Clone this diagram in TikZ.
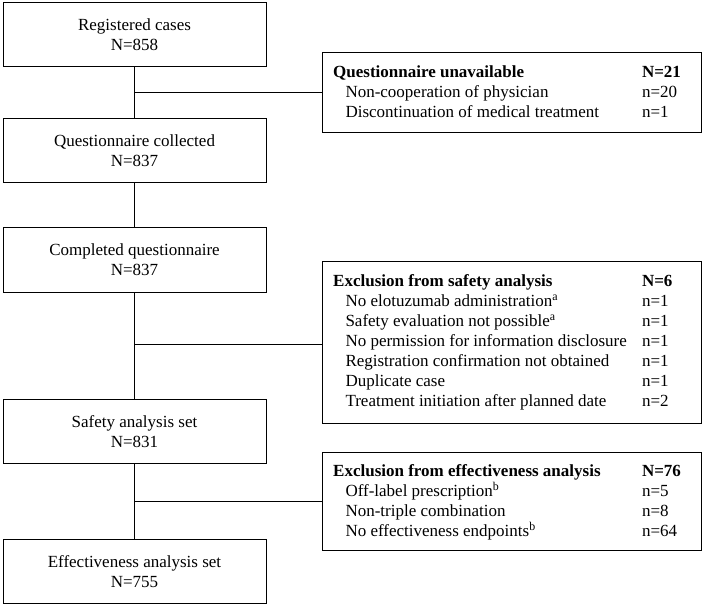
\documentclass[tikz,border=0pt]{standalone}
\usepackage{fontspec}
\setmainfont{Liberation Serif}
\begin{document}
\begin{tikzpicture}[x=1pt,y=-1pt,
  font=\fontsize{17}{20}\selectfont,
  line width=1pt,
  lbox/.style={draw, minimum width=263pt, minimum height=64pt, align=center, inner sep=0pt},
  rbox/.style={draw, minimum width=378.5pt, inner sep=0pt},
  ttl/.style={anchor=base west, inner sep=0pt, font=\fontsize{17}{20}\selectfont\bfseries},
  itm/.style={anchor=base west, inner sep=0pt},
  num/.style={anchor=base west, inner sep=0pt}]
\useasboundingbox (0,0) rectangle (709,607);

% main column
\node[lbox, minimum height=63.3pt] (b1) at (134.5,34.4) {Registered cases\\N=858};
\node[lbox, minimum height=63.7pt] (b2) at (134.5,150.2) {Questionnaire collected\\N=837};
\node[lbox, minimum height=64.3pt] (b3) at (134.5,259.9) {Completed questionnaire\\N=837};
\node[lbox, minimum height=64pt] (b4) at (134.5,431.3) {Safety analysis set\\N=831};
\node[lbox, minimum height=64.4pt] (b5) at (134.5,571.5) {Effectiveness analysis set\\N=755};

% side boxes
\node[rbox, minimum height=80.4pt] (q) at (511.75,92.5) {};
\node[rbox, minimum height=161.3pt] (s) at (511.75,342.35) {};
\node[rbox, minimum height=97.3pt] (e) at (511.75,501.35) {};

% connectors
\draw (b1) -- (b2);
\draw (b2) -- (b3);
\draw (b3) -- (b4);
\draw (b4) -- (b5);
\coordinate (jq) at (134.5,92.5);
\coordinate (js) at (134.5,344.3);
\coordinate (je) at (134.5,501.7);
\draw (jq) -- (jq -| q.west);
\draw (js) -- (js -| s.west);
\draw (je) -- (je -| e.west);

% questionnaire unavailable
\node[ttl] (qt) at (332.7,77.3) {Questionnaire unavailable};
\node[ttl] (qn) at (641.5,77.3) {N=21};
\node[itm] (q1) at (345,97.3) {Non-cooperation of physician};
\node[num] (q1n) at (641.5,97.3) {n=20};
\node[itm] (q2) at (345,117.3) {Discontinuation of medical treatment};
\node[num] (q2n) at (641.5,117.3) {n=1};

% safety exclusion
\node[ttl] (st) at (332.7,286.3) {Exclusion from safety analysis};
\node[ttl] (sn) at (641.5,286.3) {N=6};
\node[itm] (s1) at (345,306.3) {No elotuzumab administration\textsuperscript{a}};
\node[num] (s1n) at (641.5,306.3) {n=1};
\node[itm] (s2) at (345,326.3) {Safety evaluation not possible\textsuperscript{a}};
\node[num] (s2n) at (641.5,326.3) {n=1};
\node[itm] (s3) at (345,346.5) {No permission for information disclosure};
\node[num] (s3n) at (641.5,346.5) {n=1};
\node[itm] (s4) at (345,366.6) {Registration confirmation not obtained};
\node[num] (s4n) at (641.5,366.6) {n=1};
\node[itm] (s5) at (345,386.7) {Duplicate case};
\node[num] (s5n) at (641.5,386.7) {n=1};
\node[itm] (s6) at (345,406.7) {Treatment initiation after planned date};
\node[num] (s6n) at (641.5,406.7) {n=2};

% effectiveness exclusion
\node[ttl] (et) at (332.7,476.7) {Exclusion from effectiveness analysis};
\node[ttl] (en) at (641.5,476.7) {N=76};
\node[itm] (e1) at (345,496.7) {Off-label prescription\textsuperscript{b}};
\node[num] (e1n) at (641.5,496.7) {n=5};
\node[itm] (e2) at (345,516.7) {Non-triple combination};
\node[num] (e2n) at (641.5,516.7) {n=8};
\node[itm] (e3) at (345,536.7) {No effectiveness endpoints\textsuperscript{b}};
\node[num] (e3n) at (641.5,536.7) {n=64};
\end{tikzpicture}
\end{document}
